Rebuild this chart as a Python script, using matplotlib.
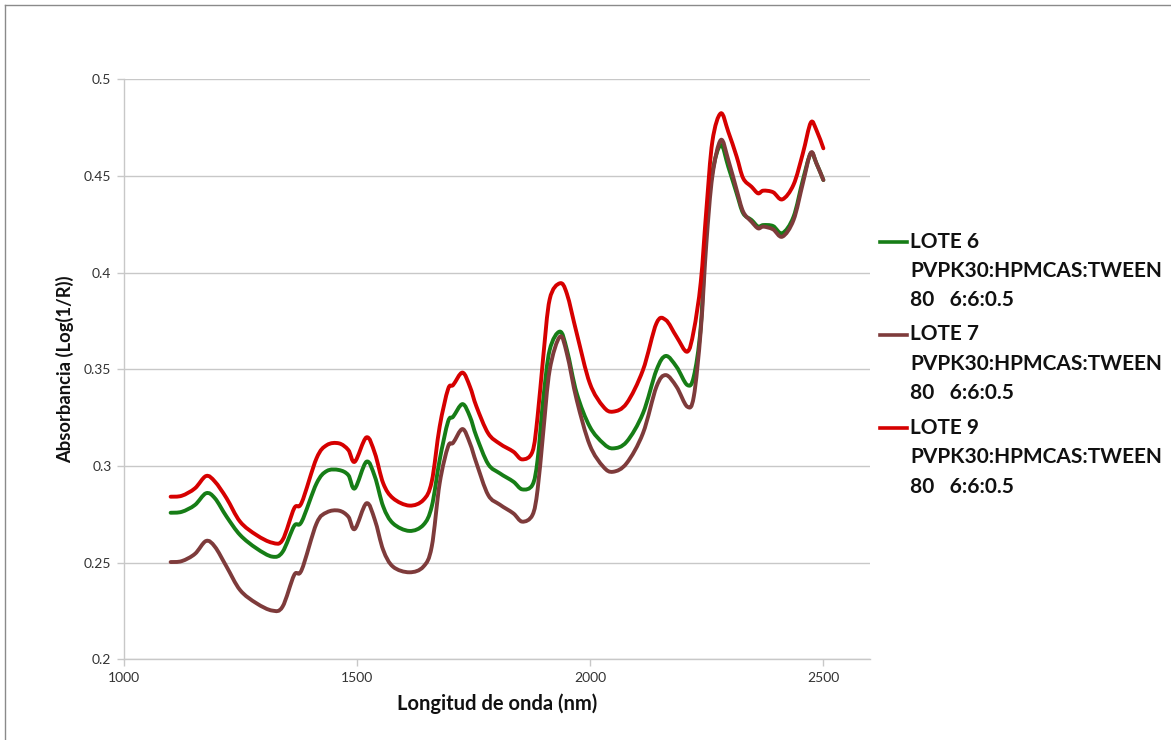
import matplotlib
matplotlib.use("Agg")
import matplotlib.pyplot as plt
from matplotlib.lines import Line2D
from matplotlib.path import Path
from matplotlib.patches import PathPatch

# Wavelength grid (nm)
wavelength = [1100, 1124, 1152, 1176, 1195, 1220, 1249, 1284, 1318, 1340,
              1365, 1381, 1413, 1435, 1461, 1481, 1495, 1520, 1538, 1556,
              1577, 1612, 1642, 1660, 1677, 1695, 1706, 1726, 1742, 1756,
              1781, 1806, 1835, 1854, 1876, 1887, 1899, 1913, 1935, 1950,
              1971, 1999, 2028, 2049, 2078, 2113, 2142, 2162, 2185, 2208,
              2222, 2237, 2249, 2262, 2280, 2296, 2314, 2328, 2346, 2360,
              2371, 2392, 2412, 2436, 2456, 2473, 2485, 2500]

lote6 = [0.2758, 0.2763, 0.2798, 0.2859, 0.2833, 0.2738, 0.2643, 0.2574, 0.2531, 0.2555,
         0.2690, 0.2712, 0.2910, 0.2974, 0.2979, 0.2953, 0.2884, 0.3022, 0.2945, 0.2790,
         0.2703, 0.2664, 0.2695, 0.2790, 0.3031, 0.3229, 0.3255, 0.3320, 0.3255, 0.3152,
         0.3010, 0.2962, 0.2919, 0.2879, 0.2902, 0.3031, 0.3340, 0.3600, 0.3695, 0.3600,
         0.3376, 0.3203, 0.3117, 0.3091, 0.3125, 0.3272, 0.3496, 0.3569, 0.3513, 0.3419,
         0.3462, 0.3720, 0.4238, 0.4520, 0.4660, 0.4548, 0.4410, 0.4307, 0.4272, 0.4238,
         0.4246, 0.4241, 0.4204, 0.4289, 0.4479, 0.4617, 0.4566, 0.4479]

lote7 = [0.2503, 0.2508, 0.2545, 0.2612, 0.2582, 0.2479, 0.2358, 0.2290, 0.2252, 0.2272,
         0.2436, 0.2462, 0.2703, 0.2760, 0.2769, 0.2738, 0.2674, 0.2807, 0.2721, 0.2565,
         0.2479, 0.2450, 0.2479, 0.2582, 0.2910, 0.3100, 0.3120, 0.3191, 0.3117, 0.3014,
         0.2850, 0.2800, 0.2755, 0.2712, 0.2746, 0.2876, 0.3169, 0.3496, 0.3669, 0.3580,
         0.3341, 0.3108, 0.2996, 0.2970, 0.3014, 0.3169, 0.3410, 0.3470, 0.3410, 0.3307,
         0.3358, 0.3700, 0.4150, 0.4500, 0.4686, 0.4583, 0.4428, 0.4315, 0.4263, 0.4229,
         0.4238, 0.4224, 0.4186, 0.4272, 0.4462, 0.4620, 0.4566, 0.4479]

lote9 = [0.2841, 0.2846, 0.2884, 0.2948, 0.2919, 0.2833, 0.2712, 0.2643, 0.2603, 0.2617,
         0.2781, 0.2810, 0.3040, 0.3108, 0.3117, 0.3083, 0.3022, 0.3148, 0.3066, 0.2910,
         0.2833, 0.2795, 0.2824, 0.2919, 0.3203, 0.3397, 0.3419, 0.3483, 0.3410, 0.3307,
         0.3169, 0.3115, 0.3074, 0.3034, 0.3074, 0.3255, 0.3560, 0.3862, 0.3945, 0.3890,
         0.3686, 0.3428, 0.3307, 0.3281, 0.3324, 0.3496, 0.3738, 0.3755, 0.3669, 0.3591,
         0.3700, 0.3950, 0.4324, 0.4680, 0.4824, 0.4729, 0.4600, 0.4488, 0.4444, 0.4410,
         0.4424, 0.4416, 0.4379, 0.4455, 0.4617, 0.4776, 0.4738, 0.4643]

series_labels = ["LOTE 6", "LOTE 7", "LOTE 9"]
series_detail = ["PVPK30:HPMCAS:TWEEN", "80   6:6:0.5"]
series_colors = ["#167d16", "#7e3b3b", "#d60000"]

x_ticks = [1000, 1500, 2000, 2500]
y_ticks = [0.2, 0.25, 0.3, 0.35, 0.4, 0.45, 0.5]
y_tick_labels = ["0.2", "0.25", "0.3", "0.35", "0.4", "0.45", "0.5"]

plt.rcParams["font.family"] = ["Lato", "DejaVu Sans"]


def smooth_path(xs, ys):
    """Smoothed line through the points as cubic Bezier segments."""
    n = len(xs)
    verts = [(xs[0], ys[0])]
    codes = [Path.MOVETO]
    for i in range(n - 1):
        x0, y0 = (xs[i - 1], ys[i - 1]) if i > 0 else (xs[i], ys[i])
        x1, y1 = xs[i], ys[i]
        x2, y2 = xs[i + 1], ys[i + 1]
        x3, y3 = (xs[i + 2], ys[i + 2]) if i + 2 < n else (x2, y2)
        c1 = (x1 + (x2 - x0) / 6.0, y1 + (y2 - y0) / 6.0)
        c2 = (x2 - (x3 - x1) / 6.0, y2 - (y3 - y1) / 6.0)
        verts += [c1, c2, (x2, y2)]
        codes += [Path.CURVE4] * 3
    return Path(verts, codes)


W, H = 1171, 740
fig = plt.figure(figsize=(W / 100, H / 100), dpi=100)
ax = fig.add_axes([124 / W, 1 - 659.3 / H, (870 - 124) / W, (659.3 - 79.3) / H])

for ys, col in zip([lote6, lote7, lote9], series_colors):
    patch = PathPatch(smooth_path(wavelength, ys), facecolor="none",
                      edgecolor=col, lw=2.8, joinstyle="round",
                      capstyle="round", zorder=3)
    ax.add_patch(patch)

ax.set_xlim(1000, 2600)
ax.set_ylim(0.2, 0.5)
ax.set_xticks(x_ticks)
ax.set_xticklabels([str(t) for t in x_ticks])
ax.set_yticks(y_ticks)
ax.set_yticklabels(y_tick_labels)

grid_col = "#c8c8c8"
ax.yaxis.grid(True, color=grid_col, lw=1.0)
ax.set_axisbelow(True)
for s in ["top", "right"]:
    ax.spines[s].set_visible(False)
for s in ["left", "bottom"]:
    ax.spines[s].set_color(grid_col)
    ax.spines[s].set_linewidth(1.0)
ax.tick_params(axis="both", colors=grid_col, length=5, width=1.0,
               labelcolor="#333333", labelsize=10)
ax.tick_params(axis="x", pad=4)
ax.tick_params(axis="y", pad=4)

ax.set_xlabel("Longitud de onda (nm)", fontsize=14.5, fontweight="bold",
              color="#111111", labelpad=7)
ax.set_ylabel("Absorbancia (Log(1/R))", fontsize=13.2, fontweight="bold",
              color="#111111", labelpad=7)

# Legend drawn by hand: a short line next to the first row of each entry
row_y = [241.5, 334.5, 428.0]
line_gap = 29.5
for top, lab, col in zip(row_y, series_labels, series_colors):
    fig.add_artist(Line2D([880 / W, 907 / W], [1 - top / H, 1 - top / H],
                          color=col, lw=2.6, transform=fig.transFigure))
    rows = [lab] + series_detail
    for i, r in enumerate(rows):
        fig.text(910 / W, 1 - (top + i * line_gap) / H, r, fontsize=15,
                 fontweight="bold", color="#111111", va="center", ha="left")

# Frame lines on the left and top edges of the figure
fig.add_artist(Line2D([5 / W, 5 / W], [0, 1 - 5 / H], color="#8a8a8a", lw=1.0,
                      transform=fig.transFigure))
fig.add_artist(Line2D([5 / W, 1], [1 - 5 / H, 1 - 5 / H], color="#8a8a8a", lw=1.0,
                      transform=fig.transFigure))

fig.savefig("out.png", dpi=100)
